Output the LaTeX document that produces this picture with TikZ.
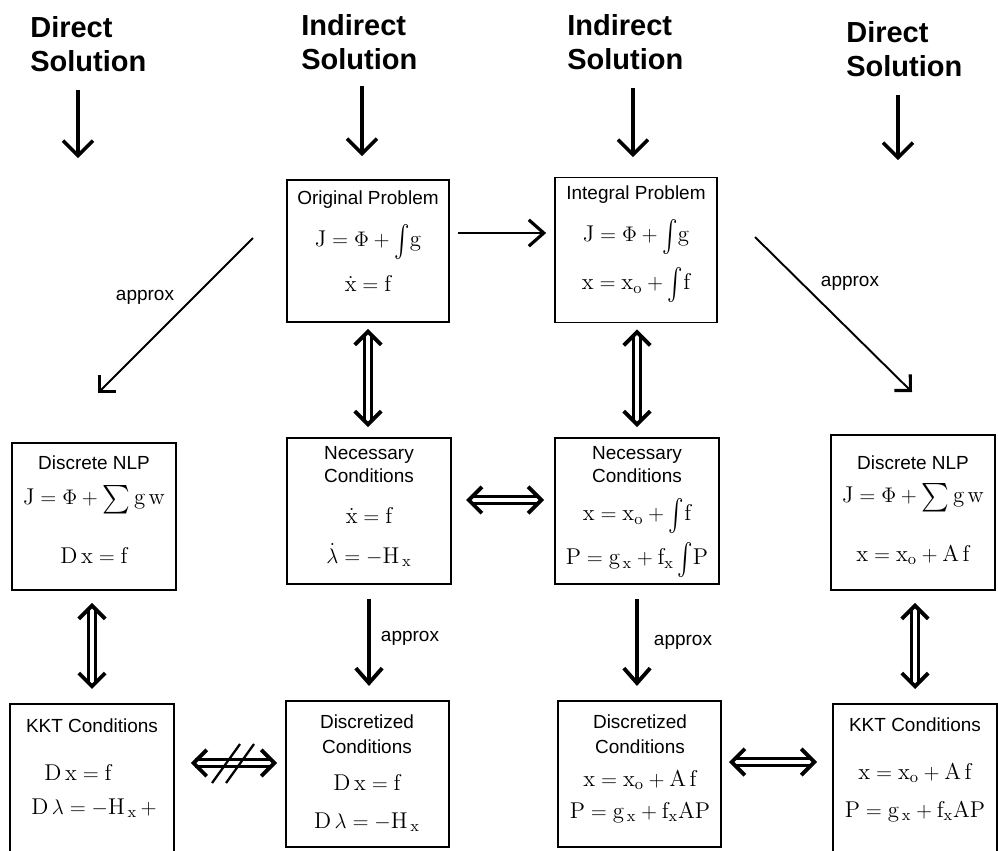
\documentclass[tikz,border=0pt]{standalone}
\usepackage{amsmath}
\usepackage{fontspec}
\setsansfont{Liberation Sans}
\usetikzlibrary{arrows.meta,positioning,calc}

\newcommand{\tint}{\mathop{\raisebox{-0.3ex}{\scalebox{1.1}[1.5]{$\int$}}}\!}
\newcommand{\tsum}{\mathop{\raisebox{-0.25ex}{\scalebox{1.25}[1.35]{$\sum$}}}}

\tikzset{
  box/.style 2 args={draw, line width=1.1pt, minimum width=#1*0.02cm, minimum height=#2*0.02cm, inner sep=0pt},
  head/.style={font=\fontsize{16.5}{19.5}\selectfont\sffamily\bfseries, align=left, anchor=north west, inner sep=0pt},
  title/.style={font=\fontsize{10.8}{12}\selectfont\sffamily, inner sep=0pt},
  eqn/.style={font=\fontsize{13}{15}\selectfont, inner sep=0pt},
  downarrow/.style={line width=1.8pt, -{Straight Barb[length=8.5pt,width=17pt,line width=2pt]}},
  approxarrow/.style={line width=2pt, -{Straight Barb[length=8.5pt,width=15pt,line width=2.2pt]}},
  diagarrow/.style={line width=1.1pt, -{Straight Barb[length=6.5pt,width=13pt,line width=1.8pt]}},
  rightarrow/.style={line width=1.5pt, -{Straight Barb[length=8.5pt,width=15pt,line width=1.8pt]}},
  dblarrow/.style={double, double distance=2.6pt, line width=1.6pt, {Straight Barb[length=7.5pt,width=15pt,line width=2.2pt]}-{Straight Barb[length=7.5pt,width=15pt,line width=2.2pt]}},
}

\begin{document}
\begin{tikzpicture}[x=0.02cm, y=-0.02cm]
  \path[fill=white, use as bounding box] (0,0) rectangle (998,850);
  \clip (0,0) rectangle (998,850);

  % headers
  \node[head] (hdDL) at (30,16) {Direct\\Solution};
  \node[head] (hdIL) at (301,14) {Indirect\\Solution};
  \node[head] (hdIR) at (567,14) {Indirect\\Solution};
  \node[head] (hdDR) at (846,21) {Direct\\Solution};
  \coordinate (tDL) at (78,158);
  \coordinate (tIL) at (362,156);
  \coordinate (tIR) at (633,157);
  \coordinate (tDR) at (898,160);
  \draw[downarrow, shorten <=10pt] (hdDL.south -| tDL) -- (tDL);
  \draw[downarrow, shorten <=9pt] (hdIL.south -| tIL) -- (tIL);
  \draw[downarrow, shorten <=10pt] (hdIR.south -| tIR) -- (tIR);
  \draw[downarrow, shorten <=10pt] (hdDR.south -| tDR) -- (tDR);

  % top row
  \node[box={162}{142}] (orig) at (368,251) {};
  \node[title] (orig-t) at (368,200) {Original Problem};
  \node[eqn] (orig-a) at (368,242) {$\mathrm{J}=\Phi+\tint\mathrm{g}$};
  \node[eqn] (orig-b) at (368,283) {$\dot{\mathrm{x}}=\mathrm{f}$};

  \node[box={162}{145}] (integ) at (636,250) {};
  \node[title] (integ-t) at (636,195) {Integral Problem};
  \node[eqn] (integ-a) at (636,237) {$\mathrm{J}=\Phi+\tint\mathrm{g}$};
  \node[eqn] (integ-b) at (636,285) {$\mathrm{x}=\mathrm{x}_{\mathrm{o}}+\tint\mathrm{f}$};

  % middle row
  \node[box={164}{147}] (nlpL) at (94,516.5) {};
  \node[title] (nlpL-t) at (94,463) {Discrete NLP};
  \node[eqn] (nlpL-a) at (94,500) {$\mathrm{J}=\Phi+\tsum\mathrm{g\,w}$};
  \node[eqn] (nlpL-b) at (94,555) {$\mathrm{D\,x}=\mathrm{f}$};

  \node[box={164}{146}] (necL) at (369,511) {};
  \node[title] (necL-t) at (369,455) {Necessary};
  \node[title] (necL-u) at (369,476) {Conditions};
  \node[eqn] (necL-a) at (369,515) {$\dot{\mathrm{x}}=\mathrm{f}$};
  \node[eqn] (necL-b) at (369,555) {$\dot{\lambda}=-\mathrm{H}_{\,\mathrm{x}}$};

  \node[box={164}{146}] (necR) at (637,511) {};
  \node[title] (necR-t) at (637,455) {Necessary};
  \node[title] (necR-u) at (637,476) {Conditions};
  \node[eqn] (necR-a) at (637,516) {$\mathrm{x}=\mathrm{x}_{\mathrm{o}}+\tint\mathrm{f}$};
  \node[eqn] (necR-b) at (637,560) {$\mathrm{P}=\mathrm{g}_{\,\mathrm{x}}+\mathrm{f}_{\mathrm{x}}\tint\mathrm{P}$};

  \node[box={164}{155}] (nlpR) at (913,512.5) {};
  \node[title] (nlpR-t) at (913,463) {Discrete NLP};
  \node[eqn] (nlpR-a) at (913,498) {$\mathrm{J}=\Phi+\tsum\mathrm{g\,w}$};
  \node[eqn] (nlpR-b) at (913,555) {$\mathrm{x}=\mathrm{x}_{\mathrm{o}}+\mathrm{A\,f}$};

  % bottom row
  \node[box={164}{156}] (kktL) at (92,782) {};
  \node[title] (kktL-t) at (92,726) {KKT Conditions};
  \node[eqn] (kktL-a) at (78,772) {$\mathrm{D\,x}=\mathrm{f}$};
  \node[eqn] (kktL-b) at (94,808) {$\mathrm{D}\,\lambda=-\mathrm{H}_{\,\mathrm{x}}\,+$};

  \node[box={163}{146}] (discL) at (367.5,774) {};
  \node[title] (discL-t) at (367,722) {Discretized};
  \node[title] (discL-u) at (367,747) {Conditions};
  \node[eqn] (discL-a) at (367,782) {$\mathrm{D\,x}=\mathrm{f}$};
  \node[eqn] (discL-b) at (367,822) {$\mathrm{D}\,\lambda=-\mathrm{H}_{\,\mathrm{x}}$};

  \node[box={163}{146}] (discR) at (639.5,774) {};
  \node[title] (discR-t) at (640,722) {Discretized};
  \node[title] (discR-u) at (640,747) {Conditions};
  \node[eqn] (discR-a) at (640,780) {$\mathrm{x}=\mathrm{x}_{\mathrm{o}}+\mathrm{A\,f}$};
  \node[eqn] (discR-b) at (640,813) {$\mathrm{P}=\mathrm{g}_{\,\mathrm{x}}+\mathrm{f}_{\mathrm{x}}\mathrm{AP}$};

  \node[box={164}{156}] (kktR) at (915,782) {};
  \node[title] (kktR-t) at (915,725) {KKT Conditions};
  \node[eqn] (kktR-a) at (915,773) {$\mathrm{x}=\mathrm{x}_{\mathrm{o}}+\mathrm{A\,f}$};
  \node[eqn] (kktR-b) at (915,812) {$\mathrm{P}=\mathrm{g}_{\,\mathrm{x}}+\mathrm{f}_{\mathrm{x}}\mathrm{AP}$};

  % connectors
  \draw[rightarrow, shorten <=4.5pt, shorten >=4.5pt] ($(orig.east)+(0,-18)$) -- ($(integ.west |- orig.east)+(0,-18)$);
  \coordinate (apxLs) at (253,238);
  \coordinate (apxLe) at (98,393);
  \coordinate (apxRs) at (755,237);
  \coordinate (apxRe) at (912,392);
  \draw[diagarrow] (apxLs) -- (apxLe);
  \draw[diagarrow] (apxRs) -- (apxRe);
  \node[title] (apxL-l) at (145,297) {approx};
  \node[title] (apxR-l) at (850,283) {approx};

  \draw[dblarrow, shorten <=3.4pt, shorten >=5.7pt] (orig.south) -- (orig.south |- necL.north);
  \draw[dblarrow, shorten <=3.4pt, shorten >=5.7pt] (necR.north |- integ.south) -- (necR.north);
  \draw[dblarrow, shorten <=8pt, shorten >=5.7pt] ($(necL.east)+(0,-11)$) -- ($(necR.west |- necL.east)+(0,-11)$);
  \draw[dblarrow, shorten <=6.8pt, shorten >=8pt] (kktL.north |- nlpL.south) -- (kktL.north);
  \draw[dblarrow, shorten <=6.8pt, shorten >=8pt] (kktR.north |- nlpR.south) -- (kktR.north);

  \draw[approxarrow, shorten <=8pt, shorten >=8pt] (necL.south) -- (necL.south |- discL.north);
  \node[title] (apxM-l) at (410,638) {approx};
  \draw[approxarrow, shorten <=8pt, shorten >=8pt] (necR.south) -- (necR.south |- discR.north);
  \node[title] (apxN-l) at (683,642) {approx};

  \coordinate (crossL) at ($(discL.west)+(0,-11)$);
  \draw[dblarrow, shorten <=9pt, shorten >=4.5pt] (kktL.east |- crossL) -- (crossL);
  \draw[line width=1.3pt] ($(crossL)+(-73,20)$) -- ($(crossL)+(-45,-19)$);
  \draw[line width=1.3pt] ($(crossL)+(-59,20)$) -- ($(crossL)+(-31,-19)$);
  \coordinate (crossR) at ($(discR.east)+(0,-12)$);
  \draw[dblarrow, shorten <=4pt, shorten >=8.5pt] (crossR) -- (kktR.west |- crossR);
\end{tikzpicture}
\end{document}
